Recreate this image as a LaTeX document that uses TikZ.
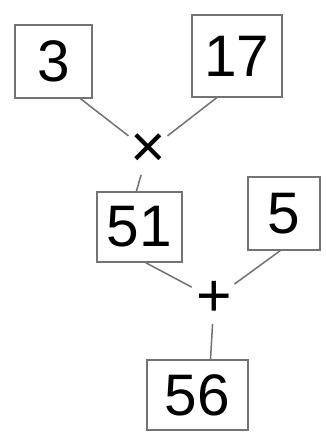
\documentclass[tikz,border=0pt]{standalone}
\usepackage{fontspec}
\setmainfont{Liberation Sans}
\usepackage{tikz}
\usetikzlibrary{positioning}
\tikzset{
  link/.style={draw=black!55, line width=1.3pt},
  numbox/.style={draw=black!55, line width=1.3pt, inner sep=0pt, font=\fontsize{50}{60}\selectfont, text=black},
  opnode/.style={circle, inner sep=0pt, minimum size=1.2cm, font=\fontsize{52}{60}\selectfont, text=black}
}
\begin{document}
\begin{tikzpicture}[x=0.03cm, y=-0.03cm]
  \useasboundingbox (0,0) rectangle (326,434);
  \node[numbox, minimum width=2.31cm, minimum height=2.19cm] (n3) at (53.5,61.5) {3};
  \node[numbox, minimum width=2.7cm, minimum height=2.46cm] (n17) at (237,56) {17};
  \node[opnode] (times) at (148,151) {×};
  \node[numbox, minimum width=2.55cm, minimum height=2.1cm] (n51) at (139.5,227) {51};
  \node[numbox, minimum width=2.16cm, minimum height=2.19cm] (n5) at (284,213.5) {5};
  \node[opnode] (plus) at (214,299) {+};
  \node[numbox, minimum width=3.03cm, minimum height=2.1cm] (n56) at (197.5,395) {56};
  \draw[link] (n3.-54) -- (times);
  \draw[link] (n17.-116) -- (times);
  \draw[link] (times) -- (n51.95);
  \draw[link] (n51.-80) -- (plus);
  \draw[link] (n5.-96) -- (plus);
  \draw[link] (plus) -- (n56.70);
\end{tikzpicture}
\end{document}
